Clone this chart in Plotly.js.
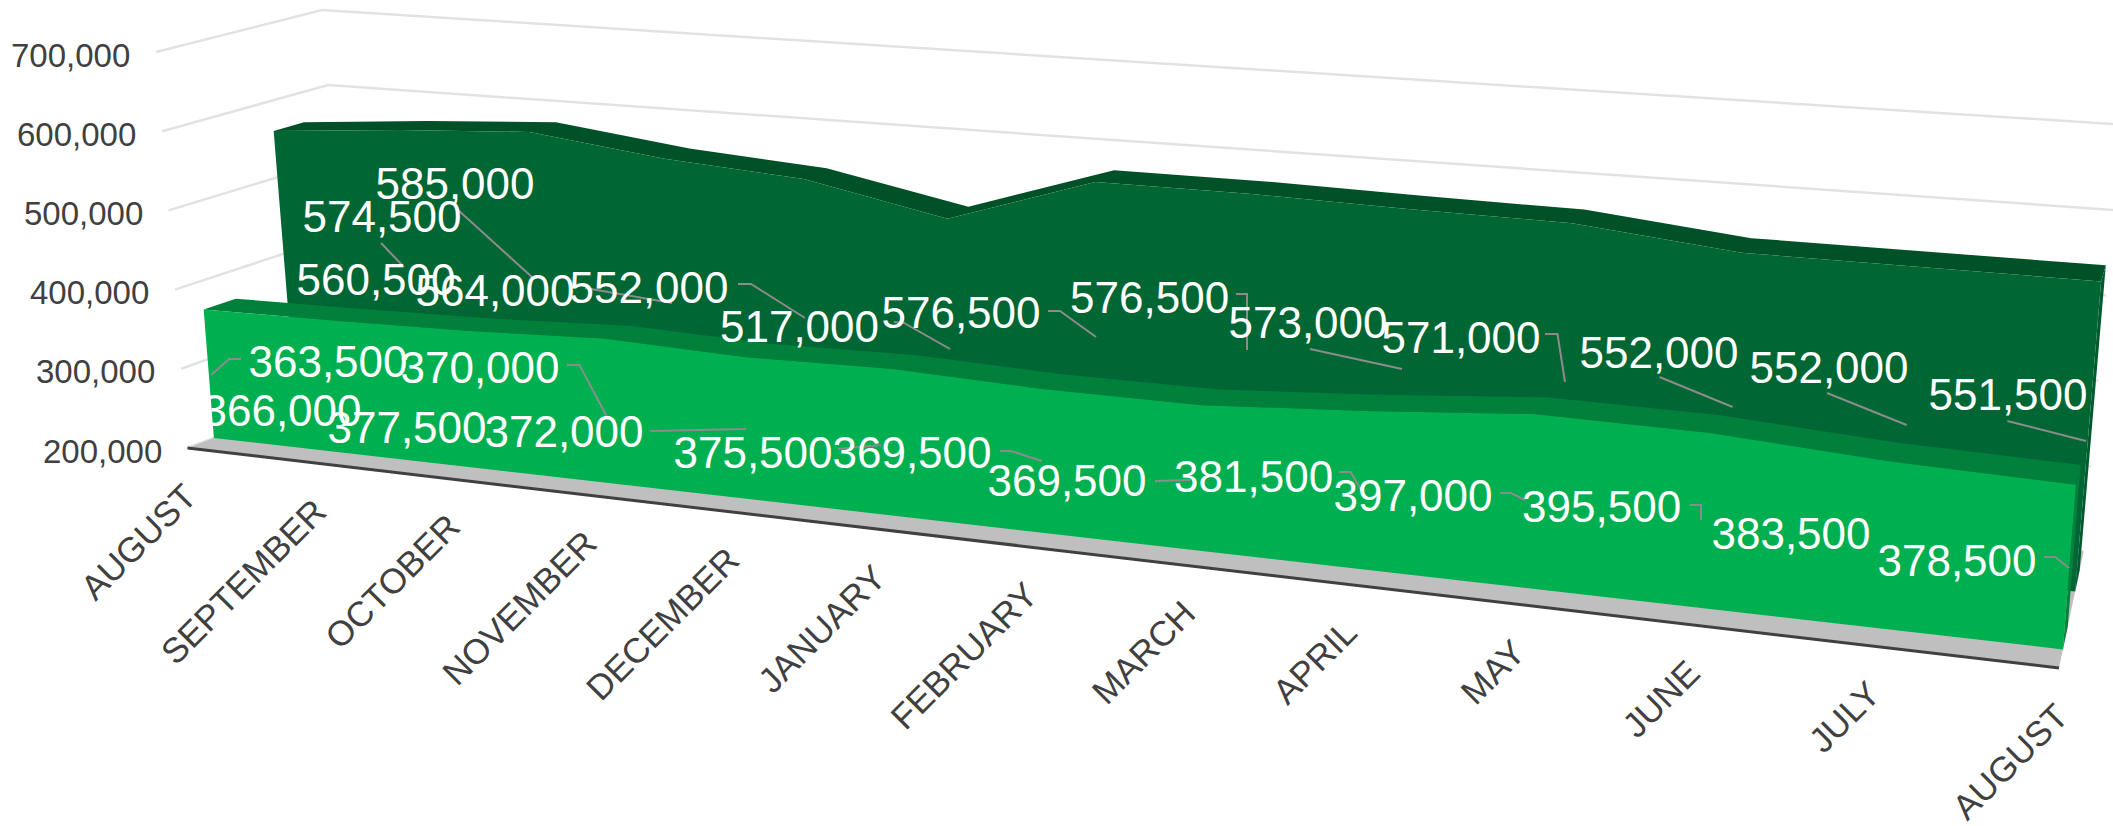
<!DOCTYPE html>
<html>
<head>
<meta charset="utf-8">
<script src="https://cdn.plot.ly/plotly-3.0.1.min.js"></script>
<style>html,body{margin:0;padding:0;background:#fff;overflow:hidden}#c{width:2113px;height:826px}</style>
</head>
<body>
<div id="c"></div>
<script>
// ---------- data ----------
const categories = ['AUGUST','SEPTEMBER','OCTOBER','NOVEMBER','DECEMBER','JANUARY','FEBRUARY','MARCH','APRIL','MAY','JUNE','JULY','AUGUST'];
const frontSeries = [363500,366000,370000,377500,372000,375500,369500,369500,381500,397000,395500,383500,378500];
const backSeries  = [560500,574500,585000,564000,552000,517000,576500,576500,573000,571000,552000,552000,551500];
const valueTicks  = [200000,300000,400000,500000,600000,700000];

// ---------- 3D-look projection (category t, depth d, value v) -> page axes ----------
const corners = {
  A:[[187.5,448],[156,52]],      // front-left  [at 200k, at 700k]
  B:[[352.5,385],[322,10]],      // back-left
  C:[[2059,668],[2095,200]],     // front-right
  D:[[2083.6,551.6],[2121,124.5]]// back-right
};
const VMIN=200000, VMAX=700000, PERSP=1.225;
const lerp=(a,b,f)=>a+(b-a)*f;
function project(i,d,v){
  const t=i/(categories.length-1);
  const s=t/(t+(1-t)*PERSP);
  const f=(v-VMIN)/(VMAX-VMIN);
  const pt=k=>{
    const l=lerp(lerp(corners.A[0][k],corners.B[0][k],d),lerp(corners.A[1][k],corners.B[1][k],d),f);
    const r=lerp(lerp(corners.C[0][k],corners.D[0][k],d),lerp(corners.C[1][k],corners.D[1][k],d),f);
    return lerp(l,r,s);
  };
  return [pt(0),pt(1)];
}
const N=categories.length, last=N-1;
const DEPTH={frontNear:0.16,frontFar:0.354,backNear:0.657,backFar:0.84};
function poly(pts,color){
  return {type:'scatter',mode:'lines',x:pts.map(p=>p[0]),y:pts.map(p=>p[1]),fill:'toself',fillcolor:color,
          line:{width:0,color:color},hoverinfo:'skip',showlegend:false,cliponaxis:true};
}
function lineT(pts,color,w){
  return {type:'scatter',mode:'lines',x:pts.map(p=>p[0]),y:pts.map(p=>p[1]),line:{width:w,color:color},hoverinfo:'skip',showlegend:false};
}
const idx=[...Array(N).keys()];
function topBand(vals,d0,d1){return idx.map(i=>project(i,d0,vals[i])).concat(idx.slice().reverse().map(i=>project(i,d1,vals[i])));}
function face(vals,d){return idx.map(i=>project(i,d,vals[i])).concat([project(last,d,VMIN),project(0,d,VMIN)]);}
function side(vals,d0,d1){return [project(last,d0,vals[last]),project(last,d1,vals[last]),project(last,d1,VMIN),project(last,d0,VMIN)];}

const traces=[];
// gridlines: left wall + back wall
valueTicks.forEach(v=>traces.push(lineT([project(0,0,v),project(0,1,v),project(last,1,v)],'#e2e2e2',2.5)));
// floor
traces.push(poly([project(0,0,VMIN),project(last,0,VMIN),project(last,1,VMIN),project(0,1,VMIN)],'#bfbfbf'));
traces.push(lineT([project(0,0,VMIN),project(last,0,VMIN)],'#404040',3));
// back series
traces.push(poly(topBand(backSeries,DEPTH.backNear,DEPTH.backFar),'#005127'));
traces.push(poly(side(backSeries,DEPTH.backNear,DEPTH.backFar),'#005a2c'));
traces.push(poly(face(backSeries,DEPTH.backNear),'#006633'));
// front series
traces.push(poly(topBand(frontSeries,DEPTH.frontNear,DEPTH.frontFar),'#00803a'));
traces.push(poly(side(frontSeries,DEPTH.frontNear,DEPTH.frontFar),'#00803a'));
traces.push(poly(face(frontSeries,DEPTH.frontNear),'#00b050'));

// ---------- label placement (page px) ----------
const backLabelX=[376,382,455,495,649,799.5,961,1149.6,1308,1461,1659,1829,2008];
const backLabelY=[284,221,188,295,292,331,317,302,327,342,356.5,372,399];
const frontLabelX=[328,282,480,407,564,753,912,1067,1253.6,1413,1601.6,1791,1957];
const frontLabelY=[366,415,372,432,436,457,457,485,481,500,511,538,565];
const leaders=[
 [[381,243],[404,267]],[[458,210],[533,278]],[[585,288],[672,303]],[[738,284],[751,284],[805,318]],
 [[894,322],[904,323],[950,349]],[[1048,311],[1060,311],[1096,337]],[[1236,294],[1247,294],[1247,350]],
 [[1310,349],[1402,369]],[[1545,334],[1557.5,334],[1565,382]],[[1659.5,377],[1732.6,407]],
 [[1827,393],[1906.6,425]],[[2007.4,421],[2086,441]],
 [[211,375],[229,359],[241,359]],[[567,365],[579.5,365],[607,417]],[[650.5,431],[746,429]],
 [[838,449],[881,445]],[[1000,451],[1011,451],[1042,461]],[[1155,481],[1190,480]],
 [[1339,472],[1350.5,472],[1363,493]],[[1500,493],[1511,493],[1525,500]],[[1690,505],[1701,505],[1701,520]],
 [[2044,557],[2055,557],[2069,568]]
];
leaders.forEach(l=>traces.push(lineT(l,'#8c8c8c',2)));
const fmt=v=>v.toLocaleString('en-US');
const labelFont={family:'"Liberation Sans", Arial, sans-serif',size:44,color:'#ffffff'};
function labels(xs,ys,vals){return {type:'scatter',mode:'text',x:xs,y:ys,text:vals.map(fmt),textposition:'middle center',textfont:labelFont,hoverinfo:'skip',showlegend:false,cliponaxis:false};}
traces.push(labels(backLabelX,backLabelY,backSeries));
traces.push(labels(frontLabelX,frontLabelY,frontSeries));

// ---------- axis labels ----------
const annotations=[];
valueTicks.forEach(v=>{
  const p=project(0,0,v);
  annotations.push({x:p[0]-24,y:p[1]+3,xref:'x',yref:'y',text:fmt(v),showarrow:false,xanchor:'right',yanchor:'middle',
    font:{family:'"Liberation Sans", Arial, sans-serif',size:33,color:'#404040'}});
});
categories.forEach((c,i)=>{
  const p=project(i,0,VMIN);
  annotations.push({x:p[0]+19,y:p[1]+25,xref:'x',yref:'y',text:c,showarrow:false,textangle:-45,xanchor:'right',yanchor:'top',
    font:{family:'"Liberation Sans", Arial, sans-serif',size:35,color:'#404040'}});
});

Plotly.newPlot('c',traces,{
  width:2113,height:826,margin:{l:0,r:0,t:0,b:0,pad:0},paper_bgcolor:'#fff',plot_bgcolor:'#fff',showlegend:false,
  xaxis:{range:[0,2113],visible:false,fixedrange:true},
  yaxis:{range:[826,0],visible:false,fixedrange:true},
  annotations:annotations,hovermode:false
},{displayModeBar:false,staticPlot:true});
</script>
</body>
</html>
